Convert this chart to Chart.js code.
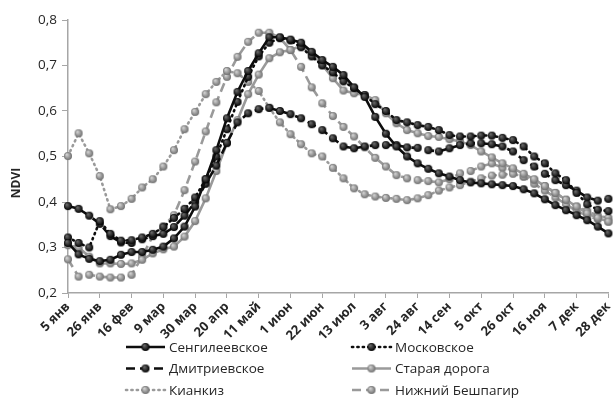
<!DOCTYPE html>
<html>
<head>
<meta charset="utf-8">
<script src="https://cdn.jsdelivr.net/npm/chart.js@4.4.0/dist/chart.umd.min.js"></script>
<style>
  html,body{margin:0;padding:0;background:#fff}
  #wrap{width:615px;height:416px}
</style>
</head>
<body>
<div id="wrap"><canvas id="chart" width="615" height="416"></canvas></div>
<script>
// недельные значения NDVI, 52 точки (5 янв ... 28 дек), подпись у каждой третьей
const WEEKS = ["5 янв","12 янв","19 янв","26 янв","2 фев","9 фев","16 фев","23 фев","2 мар","9 мар",
  "16 мар","23 мар","30 мар","6 апр","13 апр","20 апр","27 апр","4 май","11 май","18 май",
  "25 май","1 июн","8 июн","15 июн","22 июн","29 июн","6 июл","13 июл","20 июл","27 июл",
  "3 авг","10 авг","17 авг","24 авг","31 авг","7 сен","14 сен","21 сен","28 сен","5 окт",
  "12 окт","19 окт","26 окт","2 ноя","9 ноя","16 ноя","23 ноя","30 ноя","7 дек","14 дек",
  "21 дек","28 дек"];

const SENGILEEV = [0.310,0.285,0.275,0.270,0.273,0.284,0.290,0.290,0.295,0.302,0.320,0.346,0.390,0.450,0.514,0.584,0.642,0.688,0.727,0.762,
  0.762,0.757,0.750,0.730,0.712,0.697,0.679,0.652,0.631,0.587,0.550,0.522,0.500,0.485,0.473,0.463,0.456,0.448,0.443,0.441,
  0.439,0.437,0.435,0.428,0.419,0.406,0.393,0.382,0.371,0.360,0.346,0.331];
const MOSKOV = [0.322,0.310,0.300,0.358,0.330,0.315,0.316,0.322,0.330,0.345,0.365,0.385,0.410,0.450,0.500,0.560,0.620,0.675,0.720,0.750,
  0.760,0.755,0.740,0.720,0.700,0.685,0.665,0.650,0.635,0.615,0.600,0.580,0.575,0.569,0.565,0.558,0.547,0.544,0.544,0.546,
  0.546,0.541,0.536,0.522,0.500,0.485,0.463,0.448,0.420,0.395,0.383,0.380];
const DMITR = [0.391,0.385,0.370,0.352,0.325,0.311,0.310,0.318,0.325,0.330,0.345,0.370,0.400,0.440,0.480,0.530,0.575,0.595,0.604,0.607,
  0.600,0.593,0.584,0.571,0.558,0.540,0.522,0.518,0.522,0.525,0.525,0.525,0.520,0.519,0.514,0.511,0.518,0.525,0.529,0.529,
  0.527,0.522,0.511,0.492,0.478,0.462,0.448,0.437,0.425,0.410,0.403,0.407];
const STARAYA = [0.305,0.300,0.280,0.265,0.265,0.264,0.265,0.273,0.287,0.296,0.302,0.324,0.358,0.408,0.468,0.529,0.580,0.637,0.680,0.716,
  0.729,0.734,0.743,0.727,0.701,0.672,0.645,0.639,0.635,0.624,0.595,0.573,0.558,0.551,0.545,0.543,0.538,0.533,0.525,0.511,
  0.498,0.485,0.474,0.462,0.450,0.435,0.420,0.405,0.390,0.375,0.365,0.357];
const KIANKIZ = [0.501,0.551,0.507,0.457,0.384,0.391,0.407,0.432,0.450,0.478,0.514,0.560,0.598,0.637,0.664,0.688,0.683,0.664,0.644,0.607,
  0.575,0.549,0.527,0.507,0.500,0.475,0.452,0.430,0.417,0.412,0.409,0.407,0.404,0.408,0.415,0.425,0.432,0.437,0.445,0.452,
  0.458,0.460,0.462,0.456,0.448,0.435,0.420,0.405,0.390,0.380,0.370,0.365];
const NIZHNIY = [0.274,0.236,0.240,0.236,0.234,0.234,0.240,0.280,0.325,0.347,0.371,0.426,0.489,0.555,0.619,0.675,0.719,0.752,0.772,0.772,
  0.761,0.734,0.697,0.652,0.617,0.589,0.565,0.544,0.520,0.497,0.478,0.459,0.452,0.448,0.446,0.443,0.450,0.463,0.468,0.478,
  0.485,0.475,0.470,0.456,0.440,0.425,0.410,0.395,0.380,0.370,0.362,0.357];

const FONT = "'Open Sans', 'DejaVu Sans', sans-serif";
const TXT = "#262626";
const AXIS = "#a6a6a6";

// шарики-маркеры как в Excel (объёмная заливка)
function sphere(r, hi, lo){
  const s = Math.ceil(r*2+2), c = document.createElement("canvas");
  c.width = c.height = s;
  const g = c.getContext("2d"), m = s/2;
  const grad = g.createRadialGradient(m-r*0.35, m-r*0.4, r*0.1, m, m, r);
  grad.addColorStop(0, hi); grad.addColorStop(1, lo);
  g.fillStyle = grad;
  g.beginPath(); g.arc(m, m, r, 0, Math.PI*2); g.fill();
  return c;
}
const DOT_BLACK = sphere(4, "#6a6a6a", "#000000");
const DOT_GREY  = sphere(4, "#d4d4d4", "#6e6e6e");

const SOLID = [], DOTTED = [1.2, 4.2], DASHED = [9, 5];
function ds(label, data, black, dash){
  return {
    label, data,
    borderColor: black ? "#0d0d0d" : "#9a9a9a",
    borderWidth: 2.6,
    borderDash: dash,
    borderCapStyle: dash === DOTTED ? "round" : "butt",
    pointStyle: black ? DOT_BLACK : DOT_GREY,
    pointRadius: 4,
    tension: 0,
    clip: false
  };
}

const datasets = [
  ds("Сенгилеевское",   SENGILEEV, true,  SOLID),
  ds("Московское",      MOSKOV,    true,  DOTTED),
  ds("Дмитриевское",    DMITR,     true,  DASHED),
  ds("Старая дорога",   STARAYA,   false, SOLID),
  ds("Кианкиз",         KIANKIZ,   false, DOTTED),
  ds("Нижний Бешпагир", NIZHNIY,   false, DASHED)
];

// легенда в две колонки под осью и подпись оси Y
const legendPlugin = {
  id: "twoColLegend",
  afterDraw(chart){
    const { ctx } = chart;
    ctx.save();
    chart.data.datasets.forEach((d, i) => {
      const col = i % 2, row = Math.floor(i / 2);
      const x0 = col ? 352 : 126, y = 347 + row*21.5;
      ctx.strokeStyle = d.borderColor; ctx.lineWidth = d.borderWidth;
      ctx.lineCap = d.borderCapStyle; ctx.setLineDash(d.borderDash);
      ctx.beginPath(); ctx.moveTo(x0, y); ctx.lineTo(x0+39, y); ctx.stroke();
      ctx.setLineDash([]);
      const img = d.pointStyle;
      ctx.drawImage(img, x0+19.5-img.width/2, y-img.height/2);
      ctx.fillStyle = TXT; ctx.font = "13.5px " + FONT;
      ctx.textAlign = "left"; ctx.textBaseline = "middle";
      ctx.fillText(d.label, x0+43, y+1);
    });
    ctx.translate(17, 183); ctx.rotate(-Math.PI/2);
    ctx.font = "bold 12px " + FONT; ctx.fillStyle = TXT;
    ctx.textAlign = "center"; ctx.textBaseline = "middle";
    ctx.fillText("NDVI", 0, 0);
    ctx.restore();
  }
};

new Chart(document.getElementById("chart"), {
  type: "line",
  data: { labels: WEEKS, datasets },
  options: {
    responsive: false, animation: false, devicePixelRatio: 1,
    layout: { padding: { top: 20, right: 4, left: 0, bottom: 0 } },
    plugins: { legend: { display: false }, tooltip: { enabled: false } },
    scales: {
      x: {
        type: "category",
        afterFit(s){ s.height = 123; s.paddingRight = 0; s.paddingLeft = 0; },
        border: { color: AXIS, width: 1.5 },
        grid: { drawOnChartArea: false, tickLength: 5,
          tickColor: c => c.index % 3 === 0 ? AXIS : "rgba(0,0,0,0)" },
        ticks: { autoSkip: false, minRotation: 45, maxRotation: 45, padding: 1,
          color: TXT, font: { family: FONT, size: 13, weight: "bold" },
          callback: (v, i) => i % 3 === 0 ? WEEKS[i] : "" }
      },
      y: {
        min: 0.2, max: 0.8,
        afterFit(s){ s.width = 68; },
        border: { color: AXIS, width: 1.5 },
        grid: { drawOnChartArea: false, tickLength: 6, tickColor: AXIS },
        ticks: { stepSize: 0.1, padding: 5, color: TXT, font: { family: FONT, size: 13.5 },
          callback: v => v.toFixed(1).replace(".", ",") }
      }
    }
  },
  plugins: [legendPlugin]
});
</script>
</body>
</html>
